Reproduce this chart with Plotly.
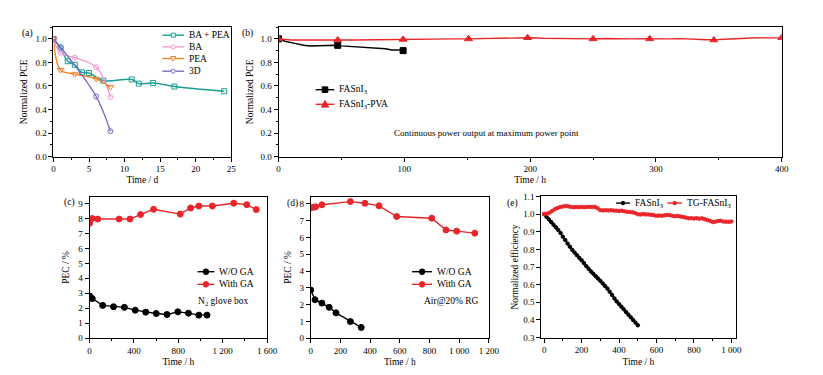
import numpy as np
import plotly.graph_objects as go

W, H = 823, 375
FONT = "Liberation Serif"
RED = "#e8262a"
TEAL = "#1b9e90"
PINK = "#f29bd2"
ORANGE = "#f5822a"
PURPLE = "#7a6cc0"

# ---------------- data ----------------
# (a) Normalized PCE vs time (days)
a_bapea_t = [0, 1, 2, 3, 4, 5, 7, 11, 12, 14, 17, 24]
a_bapea = [1.0, 0.92, 0.81, 0.78, 0.715, 0.71, 0.645, 0.655, 0.62, 0.625, 0.595, 0.555]
a_ba_t = [0, 1, 3, 6, 8]
a_ba = [1.0, 0.88, 0.84, 0.76, 0.505]
a_pea_t = [0, 1, 3, 6, 8]
a_pea = [1.0, 0.735, 0.70, 0.66, 0.59]
a_3d_t = [0, 1, 6, 8]
a_3d = [1.0, 0.93, 0.51, 0.215]

# (b) continuous MPP output (hours)
b_fa_t = [0, 5, 10, 15, 20, 25, 30, 35, 40, 45, 50, 55, 60, 65, 70, 75, 80, 85, 90, 95, 100]
b_fa = [1.0, 0.98, 0.968, 0.955, 0.946, 0.94, 0.941, 0.945, 0.94, 0.946, 0.94, 0.936, 0.931,
        0.929, 0.925, 0.92, 0.915, 0.916, 0.905, 0.906, 0.90]
b_fa_mark_t = [0, 47, 99]
b_fa_mark = [1.0, 0.945, 0.90]
b_pva_t = [0, 10, 20, 30, 40, 50, 60, 70, 80, 90, 100, 110, 120, 130, 140, 150, 160, 170, 180,
           190, 200, 210, 220, 230, 240, 250, 260, 270, 280, 290, 300, 310, 320, 330, 340, 350,
           360, 370, 380, 390, 400]
b_pva = [1.0, 0.99, 0.99, 0.988, 0.99, 0.99, 0.99, 0.992, 0.993, 0.995, 0.995, 0.998, 1.0,
         1.003, 1.0, 1.0, 1.002, 1.0, 1.003, 1.007, 1.01, 1.005, 1.003, 1.0, 1.002, 1.0, 1.003,
         1.0, 1.0, 1.002, 0.998, 1.0, 1.002, 0.995, 0.993, 0.995, 1.0, 1.005, 1.01, 1.008, 1.008]
b_pva_mark_t = [0, 47, 99, 151, 198, 250, 295, 346, 400]
b_pva_mark = [1.0, 0.99, 0.995, 1.0, 1.01, 1.0, 1.0, 0.99, 1.01]

# (c) PEC in N2 glove box
c_wo_t = [0, 24, 118, 216, 314, 411, 506, 601, 698, 796, 891, 985, 1059]
c_wo = [2.82, 2.65, 2.19, 2.10, 2.06, 1.87, 1.74, 1.65, 1.58, 1.76, 1.67, 1.54, 1.54]
c_with_t = [0, 24, 74, 266, 364, 459, 577, 817, 911, 985, 1107, 1299, 1417, 1503]
c_with = [7.68, 8.0, 7.96, 7.96, 7.96, 8.26, 8.61, 8.29, 8.70, 8.83, 8.83, 9.02, 8.92, 8.59]

# (d) PEC in air @20% RG
d_wo_t = [0, 29, 75, 124, 170, 267, 340]
d_wo = [2.87, 2.29, 2.09, 1.84, 1.51, 0.99, 0.64]
d_with_t = [0, 20, 33, 75, 267, 365, 460, 579, 815, 911, 983, 1105]
d_with = [7.77, 7.81, 7.83, 7.95, 8.14, 8.04, 7.89, 7.25, 7.15, 6.45, 6.38, 6.26]

# (e) normalized efficiency
e_fa_t = np.linspace(0, 500, 41)
e_fa = [1.0, 0.985, 0.97, 0.955, 0.94, 0.925, 0.91, 0.893, 0.872, 0.853, 0.833, 0.815, 0.797,
        0.782, 0.767, 0.752, 0.738, 0.722, 0.705, 0.69, 0.675, 0.662, 0.648, 0.635, 0.622,
        0.607, 0.593, 0.578, 0.56, 0.542, 0.522, 0.505, 0.49, 0.475, 0.46, 0.445, 0.43,
        0.415, 0.40, 0.385, 0.37]
e_tg_t = np.linspace(0, 1000, 71)
e_tg = [1.0, 1.002, 1.008, 1.018, 1.028, 1.035, 1.040, 1.043, 1.046, 1.044, 1.040, 1.039,
        1.040, 1.039, 1.040, 1.039, 1.040, 1.041, 1.040, 1.041, 1.033, 1.022, 1.021, 1.022,
        1.021, 1.022, 1.020, 1.019, 1.018, 1.019, 1.016, 1.013, 1.012, 1.010, 1.006, 0.999,
        0.998, 1.000, 0.998, 0.998, 0.996, 0.994, 0.990, 0.992, 0.990, 0.993, 0.995, 0.994,
        0.990, 0.988, 0.990, 0.986, 0.983, 0.980, 0.976, 0.977, 0.975, 0.977, 0.974, 0.976,
        0.971, 0.967, 0.962, 0.955, 0.957, 0.961, 0.962, 0.958, 0.957, 0.956, 0.958]

# ---------------- helpers ----------------
def px(x):
    return x / W


def py(y):
    return 1 - y / H


fig = go.Figure()


def add(xs, ys, ax, color, mode="lines+markers", symbol="circle", size=5, width=1.4,
        shape="linear", open_=False):
    fig.add_trace(go.Scatter(
        x=xs, y=ys, xaxis="x" + ax, yaxis="y" + ax, mode=mode,
        line=dict(color=color, width=width, shape=shape, smoothing=1.0),
        marker=dict(symbol=symbol + ("-open" if open_ else ""), size=size, color=color,
                    line=dict(color=color, width=1)),
        showlegend=False, hoverinfo="x+y"))


# (a)
add(a_bapea_t, a_bapea, "", TEAL, symbol="square", size=5, shape="spline", open_=True)
add(a_ba_t, a_ba, "", PINK, symbol="circle", size=5, shape="spline", open_=True)
add(a_pea_t, a_pea, "", ORANGE, symbol="triangle-down", size=6, shape="spline", open_=True)
add(a_3d_t, a_3d, "", PURPLE, symbol="circle", size=5, shape="spline", open_=True)

# (b)
add(b_fa_t, b_fa, "2", "black", mode="lines", width=1.4)
add(b_fa_mark_t, b_fa_mark, "2", "black", mode="markers", symbol="square", size=6)
add(b_pva_t, b_pva, "2", RED, mode="lines", width=1.4)
add(b_pva_mark_t, b_pva_mark, "2", RED, mode="markers", symbol="triangle-up", size=7)

# (c)
add(c_wo_t, c_wo, "3", "black", size=6)
add(c_with_t, c_with, "3", RED, size=6)

# (d)
add(d_wo_t, d_wo, "4", "black", size=6)
add(d_with_t, d_with, "4", RED, size=6)

# (e)
add(e_fa_t, e_fa, "5", "black", size=3.5, width=1.2)
add(e_tg_t, e_tg, "5", RED, size=3.5, width=1.2)

# ---------------- axes ----------------
def axis(domain, rng, dtick, minor_dtick, title, anchor, standoff, fmt=None, sep=False):
    d = dict(domain=domain, range=rng, dtick=dtick, tick0=0, showline=True, linecolor="black",
             linewidth=1, mirror=True, ticks="outside", ticklen=4, tickwidth=1,
             tickcolor="black", showgrid=False, zeroline=False, anchor=anchor,
             tickfont=dict(family=FONT, size=9, color="black"),
             title=dict(text=title, font=dict(family=FONT, size=9.5, color="black"),
                        standoff=standoff),
             separatethousands=sep)
    if minor_dtick:
        d["minor"] = dict(ticks="outside", ticklen=2, tickwidth=1, tickcolor="black",
                          dtick=minor_dtick, showgrid=False)
    if fmt:
        d["tickformat"] = fmt
    return d


ya = [py(155.7), py(22.7)]
yc = [py(342.3), py(197)]
ye = [py(341.7), py(196.7)]

layout = dict(
    width=W, height=H, margin=dict(l=0, r=0, t=0, b=0),
    paper_bgcolor="white", plot_bgcolor="white", separators=". ",
    font=dict(family=FONT, color="black"),
    xaxis=axis([px(52.3), px(233)], [0, 25], 5, 2.5, "Time / d", "y", 3),
    yaxis=axis(ya, [0, 1.1], 0.2, 0.1, "Normalized PCE", "x", 6, fmt=".1f"),
    xaxis2=axis([px(281), px(792.3)], [0, 400], 100, 50, "Time / h", "y2", 3),
    yaxis2=axis(ya, [0, 1.1], 0.2, 0.1, "Normalized PCE", "x2", 5, fmt=".1f"),
    xaxis3=axis([px(89), px(269.3)], [0, 1600], 400, 200, "Time / h", "y3", 3, sep=True),
    yaxis3=axis(yc, [0, 9.45], 1, None, "PEC / %", "x3", 6),
    xaxis4=axis([px(313.7), px(494.7)], [0, 1200], 200, None, "Time / h", "y4", 3, sep=True),
    yaxis4=axis(yc, [0, 8.43], 1, None, "PEC / %", "x4", 6),
    xaxis5=axis([px(548), px(745.3)], [-15, 1022], 200, 100, "Time / h", "y5", 3, sep=True),
    yaxis5=axis(ye, [0.3, 1.1], 0.1, None, "Normalized efficiency", "x5", 2, fmt=".1f"),
)

shapes = []
annotations = []


def text(x, y, s, size=9, anchor="left"):
    annotations.append(dict(x=px(x), y=py(y), xref="paper", yref="paper", text=s,
                            showarrow=False, xanchor=anchor, yanchor="middle",
                            font=dict(family=FONT, size=size, color="black")))


def legend_entry(x0, x1, y, color, symbol, label, filled=True, ms=2.5, tx=None, size=9.5):
    shapes.append(dict(type="line", xref="paper", yref="paper", x0=px(x0), x1=px(x1),
                       y0=py(y), y1=py(y), line=dict(color=color, width=1.4)))
    xc = (x0 + x1) / 2
    fill = color if filled else "white"
    base = dict(xref="paper", yref="paper", xsizemode="pixel", ysizemode="pixel",
                xanchor=px(xc), yanchor=py(y), fillcolor=fill,
                line=dict(color=color, width=1))
    if symbol == "square":
        shapes.append(dict(type="rect", x0=-ms, x1=ms, y0=-ms, y1=ms, **base))
    elif symbol == "circle":
        shapes.append(dict(type="circle", x0=-ms, x1=ms, y0=-ms, y1=ms, **base))
    elif symbol == "triangle-up":
        shapes.append(dict(type="path", path=f"M {-ms*1.3} {-ms} L {ms*1.3} {-ms} L 0 {ms*1.4} Z",
                           **base))
    elif symbol == "triangle-down":
        shapes.append(dict(type="path", path=f"M {-ms*1.3} {ms} L {ms*1.3} {ms} L 0 {-ms*1.4} Z",
                           **base))
    text(tx if tx is not None else x1 + 3, y, label, size=size)


# legends
legend_entry(163, 185, 31, TEAL, "square", "BA + PEA", filled=False, ms=2)
legend_entry(163, 185, 43, PINK, "circle", "BA", filled=False, ms=2)
legend_entry(163, 185, 55, ORANGE, "triangle-down", "PEA", filled=False, ms=2)
legend_entry(163, 185, 68, PURPLE, "circle", "3D", filled=False, ms=2)

legend_entry(318.7, 337.7, 87, "black", "square", "FASnI<sub>3</sub>", ms=2.8)
legend_entry(318.7, 337.7, 102, RED, "triangle-up", "FASnI<sub>3</sub>-PVA", ms=2.8)

legend_entry(198.7, 215.7, 274, "black", "circle", "W/O GA", ms=2.8)
legend_entry(198.7, 215.7, 287, RED, "circle", "With GA", ms=2.8)

legend_entry(416.7, 437, 274, "black", "circle", "W/O GA", ms=2.8)
legend_entry(416.7, 437, 287, RED, "circle", "With GA", ms=2.8)

legend_entry(624, 638, 203.5, "black", "circle", "FASnI<sub>3</sub>", ms=1.8)
legend_entry(676, 691, 203.5, RED, "circle", "TG-FASnI<sub>3</sub>", ms=1.8)

# text notes
text(396, 132, "Continuous power output at maximum power point", size=9)
text(197, 305, "N<sub>2</sub> glove box", size=9.5)
text(427, 304, "Air@20% RG", size=9.5)

# panel labels
text(26, 29, "(a)", size=9.5, anchor="center")
text(249, 29, "(b)", size=9.5, anchor="center")
text(69, 203, "(c)", size=9.5, anchor="center")
text(295, 204, "(d)", size=9.5, anchor="center")
text(519, 204, "(e)", size=9.5, anchor="center")

layout["shapes"] = shapes
layout["annotations"] = annotations
fig.update_layout(**layout)
fig.write_html("out.html", config={"displayModeBar": False},
               post_script="document.body.style.margin='0';document.body.style.overflow='hidden';")
